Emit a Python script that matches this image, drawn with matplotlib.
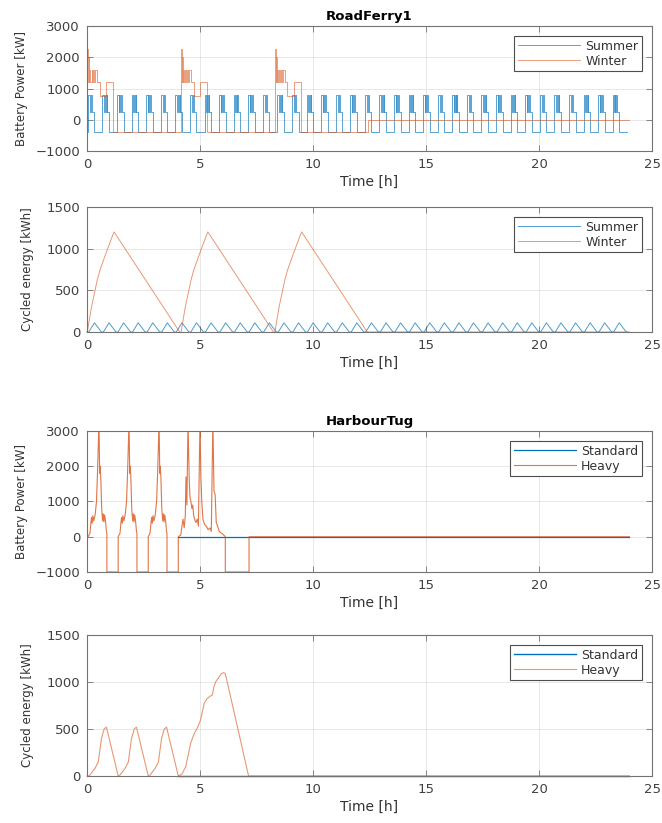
import numpy as np
import matplotlib
matplotlib.use("Agg")
import matplotlib.pyplot as plt

# ---- RoadFerry1 ----
# summer: one pulse pattern repeated every ~0.645 h
SUMMER_PERIOD = 0.645
SUMMER_FIRST = 0.04
SUMMER_CYCLES = 37
S_POW_REL = [0.00, 0.08, 0.08, 0.095, 0.095, 0.11, 0.11, 0.125, 0.125, 0.14, 0.14, 0.155,
             0.155, 0.17, 0.17, 0.185, 0.185, 0.20, 0.20, 0.29, 0.29, 0.645]
S_POW_VAL = [800, 800, 250, 250, 800, 800, 250, 250, 800, 800, 250, 250,
             800, 800, 250, 250, 800, 800, 250, 250, -380, -380]
S_EN_REL = [0.00, 0.04, 0.29, 0.60, 0.645]
S_EN_VAL = [0, 0, 110, 0, 0]

# winter: three long discharge blocks
WINTER_STARTS = [0.02, 4.17, 8.32]
W_POW_REL = [0.00, 0.03, 0.03, 0.05, 0.05, 0.07, 0.07, 0.09, 0.09, 0.12, 0.12, 0.18, 0.18,
             0.22, 0.22, 0.26, 0.26, 0.30, 0.30, 0.34, 0.34, 0.43, 0.43, 0.55, 0.55, 0.84,
             0.84, 1.13, 1.13]
W_POW_VAL = [2250, 2250, 1200, 1200, 2000, 2000, 1200, 1200, 1600, 1600, 1200, 1200, 1600,
             1600, 1200, 1200, 1600, 1600, 1200, 1200, 1600, 1600, 1200, 1200, 750, 750,
             1200, 1200, -380]
W_POW_END_T = [12.42, 12.42, 24.0]
W_POW_END_V = [-380, 0, 0]
W_EN_REL = [0.00, 0.03, 0.18, 0.43, 0.55, 0.84, 1.13, 1.18, 4.08]
W_EN_VAL = [0, 60, 300, 620, 740, 960, 1170, 1200, 0]
W_EN_END_T = [24.0]
W_EN_END_V = [0]

# ---- HarbourTug ----
HEAVY_STARTS = [0.05, 1.38, 2.71]
H_POW_REL = [0.00, 0.08, 0.12, 0.15, 0.18, 0.21, 0.25, 0.31, 0.37, 0.42, 0.48, 0.51, 0.53,
             0.56, 0.60, 0.64, 0.67, 0.70, 0.73, 0.77, 0.81, 0.83, 0.83]
H_POW_VAL = [0, 100, 380, 550, 380, 600, 450, 620, 1000, 1900, 3300, 1800, 2000,
             1700, 800, 450, 650, 420, 620, 450, 150, 100, -1000]
H_POW_LAST_T = [4.04, 4.04, 4.15, 4.20, 4.25, 4.30, 4.35, 4.38, 4.42, 4.47, 4.50, 4.53, 4.56,
                4.60, 4.64, 4.68, 4.72, 4.76, 4.82, 4.88, 4.93, 5.00, 5.04, 5.08, 5.13, 5.20,
                5.28, 5.36, 5.44, 5.50, 5.57, 5.62, 5.67, 5.72, 5.78, 5.85, 5.95, 6.05, 6.12,
                6.12, 7.17, 7.17, 24.0]
H_POW_LAST_V = [-1000, 0, 50, 300, 500, 250, 600, 1700, 900, 3300, 2300, 1500, 1100,
                1000, 800, 900, 600, 500, 400, 500, 300, 3300, 1700, 1000, 500, 350,
                300, 200, 250, 150, 3300, 1300, 1200, 400, 300, 150, 100, 50, 0,
                -1000, -1000, 0, 0]
H_EN_REL = [0.00, 0.08, 0.30, 0.45, 0.59, 0.71, 0.81, 1.33]
H_EN_VAL = [0, 10, 80, 150, 400, 500, 520, 0]
H_EN_LAST_T = [4.20, 4.37, 4.50, 4.59, 4.74, 4.90, 5.03, 5.12, 5.18, 5.30, 5.45, 5.54,
               5.62, 5.69, 5.83, 5.95, 6.05, 6.12, 7.15, 24.0]
H_EN_LAST_V = [20, 100, 250, 350, 450, 520, 600, 700, 770, 820, 850, 860,
               950, 1000, 1050, 1090, 1100, 1090, 0, 0]
STD_T = [4.04, 24.0]
STD_POW = [0, 0]
STD_EN = [0, 0]

BLUE = '#0072BD'
ORANGE = '#D95319'


def build(starts, rel, vals, v0, end_t=(), end_v=()):
    t, v = [0.0], [v0]
    for s in starts:
        t.append(s)
        v.append(v[-1])
        t.extend(s + np.array(rel))
        v.extend(vals)
    t.extend(end_t)
    v.extend(end_v)
    return np.array(t), np.array(v)


summer_starts = SUMMER_FIRST + SUMMER_PERIOD * np.arange(SUMMER_CYCLES)
s_pow_t, s_pow = build(summer_starts, S_POW_REL, S_POW_VAL, -380)
s_en_t, s_en = build(summer_starts, S_EN_REL, S_EN_VAL, 0)
w_pow_t, w_pow = build(WINTER_STARTS, W_POW_REL, W_POW_VAL, -380, W_POW_END_T, W_POW_END_V)
w_en_t, w_en = build(WINTER_STARTS, W_EN_REL, W_EN_VAL, 0, W_EN_END_T, W_EN_END_V)
h_pow_t, h_pow = build(HEAVY_STARTS, H_POW_REL, H_POW_VAL, 0, H_POW_LAST_T, H_POW_LAST_V)
h_en_t, h_en = build(HEAVY_STARTS, H_EN_REL, H_EN_VAL, 0, H_EN_LAST_T, H_EN_LAST_V)

plt.rcParams['font.family'] = 'DejaVu Sans'

fig = plt.figure(figsize=(6.62, 8.23), dpi=100)

rects = [[0.1314, 0.8165, 0.8535, 0.1519],
         [0.1314, 0.5966, 0.8535, 0.1519],
         [0.1314, 0.3050, 0.8535, 0.1713],
         [0.1314, 0.0571, 0.8535, 0.1713]]


def style(ax, ylim, yticks, ylabel, ylab_x):
    ax.set_xlim(0, 25)
    ax.set_ylim(*ylim)
    ax.set_xticks([0, 5, 10, 15, 20, 25])
    ax.set_yticks(yticks)
    ax.grid(True, color='0.15', alpha=0.12, linewidth=0.6)
    ax.set_axisbelow(True)
    for sp in ax.spines.values():
        sp.set_color('0.45')
        sp.set_linewidth(0.8)
    ax.tick_params(direction='in', top=True, right=True, length=4, width=0.6,
                   colors='0.45', labelcolor='0.25', labelsize=9.5, pad=5)
    ax.set_xlabel('Time [h]', fontsize=10, color='0.2', labelpad=3)
    ax.set_ylabel(ylabel, fontsize=8.5, color='0.2')
    ax.yaxis.set_label_coords(ylab_x, 0.5)
    leg = ax.legend(loc='upper right', fontsize=9, handlelength=5,
                    fancybox=False, framealpha=1, edgecolor='0.3',
                    borderpad=0.3, labelspacing=0.15, handletextpad=0.4,
                    borderaxespad=0.8)
    leg.get_frame().set_linewidth(0.8)
    for txt in leg.get_texts():
        txt.set_color('0.2')


ax1 = fig.add_axes(rects[0])
ax1.plot(s_pow_t, s_pow, color=BLUE, lw=0.6, alpha=0.75, label='Summer')
ax1.plot(w_pow_t, w_pow, color=ORANGE, lw=0.6, alpha=0.65, label='Winter')
style(ax1, (-1000, 3000), [-1000, 0, 1000, 2000, 3000], 'Battery Power [kW]', -0.104)
ax1.set_title('RoadFerry1', fontsize=9.5, fontweight='bold', pad=4)

ax2 = fig.add_axes(rects[1])
ax2.plot(s_en_t, s_en, color=BLUE, lw=0.7, alpha=0.7, clip_on=False, label='Summer')
ax2.plot(w_en_t, w_en, color=ORANGE, lw=0.7, alpha=0.6, clip_on=False, label='Winter')
style(ax2, (0, 1500), [0, 500, 1000, 1500], 'Cycled energy [kWh]', -0.094)

ax3 = fig.add_axes(rects[2])
ax3.plot(STD_T, STD_POW, color=BLUE, lw=0.9, label='Standard')
ax3.plot(h_pow_t, h_pow, color=ORANGE, lw=0.8, alpha=0.8, label='Heavy')
style(ax3, (-1000, 3000), [-1000, 0, 1000, 2000, 3000], 'Battery Power [kW]', -0.104)
ax3.set_title('HarbourTug', fontsize=9.5, fontweight='bold', pad=4)

ax4 = fig.add_axes(rects[3])
ax4.plot(STD_T, STD_EN, color=BLUE, lw=1.0, clip_on=False, label='Standard')
ax4.plot(h_en_t, h_en, color=ORANGE, lw=0.8, alpha=0.6, clip_on=False, label='Heavy')
style(ax4, (0, 1500), [0, 500, 1000, 1500], 'Cycled energy [kWh]', -0.094)

fig.savefig('out.png', dpi=100, facecolor='white')
